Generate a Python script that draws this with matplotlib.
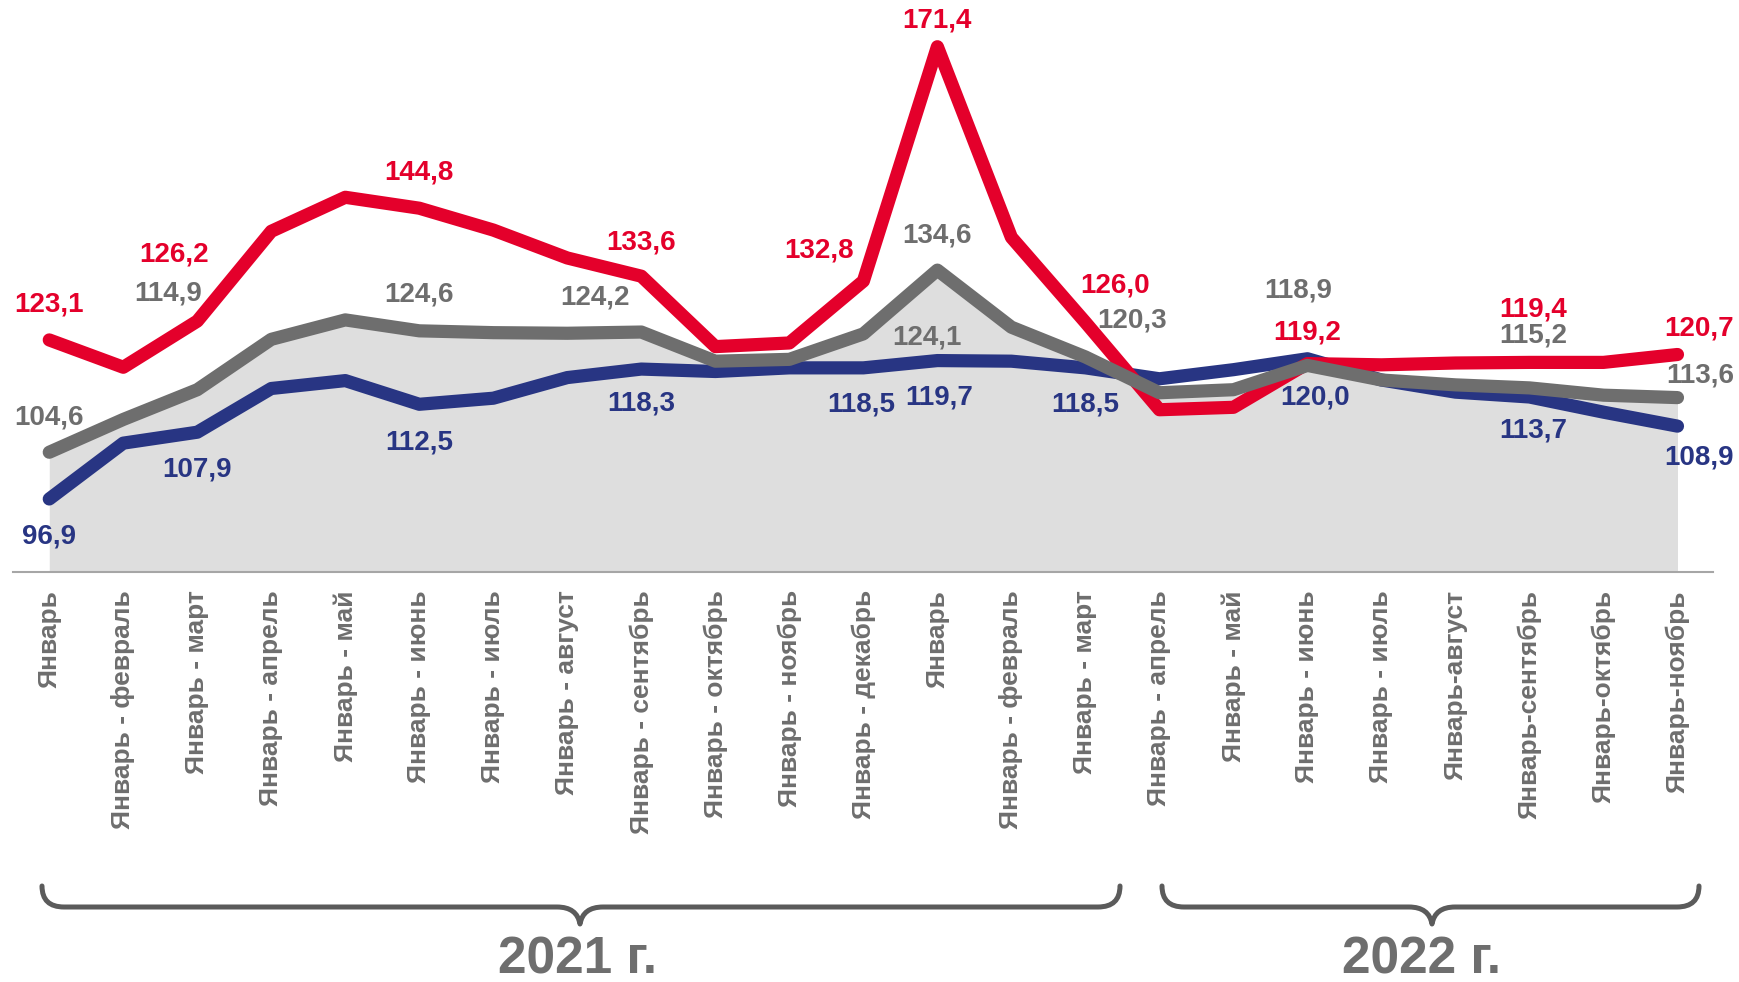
import matplotlib
matplotlib.use("Agg")
import matplotlib.pyplot as plt
from matplotlib.path import Path
from matplotlib.patches import PathPatch

plt.rcParams['font.family'] = ['Liberation Sans', 'DejaVu Sans']

categories = [
    "Январь", "Январь - февраль", "Январь - март", "Январь - апрель", "Январь - май",
    "Январь - июнь", "Январь - июль", "Январь - август", "Январь - сентябрь",
    "Январь - октябрь", "Январь - ноябрь", "Январь - декабрь",
    "Январь", "Январь - февраль", "Январь - март", "Январь - апрель", "Январь - май",
    "Январь - июнь", "Январь - июль", "Январь-август", "Январь-сентябрь",
    "Январь-октябрь", "Январь-ноябрь",
]

red_values = [123.1, 118.6, 126.2, 141.0, 146.6, 144.8, 141.2, 136.6, 133.6, 122.0, 122.6, 132.8,
              171.4, 140.0, 126.0, 111.6, 112.0, 119.2, 119.0, 119.3, 119.4, 119.4, 120.7]
gray_values = [104.6, 110.0, 114.9, 123.2, 126.4, 124.6, 124.3, 124.2, 124.4, 119.6, 119.9, 124.1,
               134.6, 125.2, 120.3, 114.4, 114.9, 118.9, 116.5, 115.7, 115.2, 114.0, 113.6]
blue_values = [96.9, 106.1, 107.9, 115.1, 116.4, 112.5, 113.5, 116.9, 118.3, 117.9, 118.5, 118.5,
               119.7, 119.6, 118.5, 116.7, 118.2, 120.0, 116.5, 114.5, 113.7, 111.2, 108.9]

# labelled points: index, offset in pixels (dx, dy up)
red_labels = [(0, 0, 35), (2, -23, 67), (5, 0, 36), (8, 0, 34), (11, -44, 31), (12, 0, 26),
              (14, 30, 37), (17, 0, 31), (20, 4, 53), (22, 22, 26)]
gray_labels = [(0, 0, 35), (2, -29, 96), (5, 0, 36), (7, 28, 36), (11, 64, -4), (12, 0, 35),
               (14, 47, 36), (17, -9, 75), (20, 4, 52), (22, 23, 22)]
blue_labels = [(0, 0, -38), (2, 0, -37), (5, 0, -38), (8, 0, -34), (11, -2, -37), (12, 2, -37),
               (14, 0, -37), (17, 8, -39), (20, 4, -34), (22, 22, -31)]

years = ["2021 г.", "2022 г."]

RED = "#E4002B"
GRAY = "#6E6E6E"
BLUE = "#283583"
FILL = "#DEDEDE"
TXT = "#6E6E6E"

W, H = 1739, 982
fig = plt.figure(figsize=(W / 100, H / 100), dpi=100)
ax = fig.add_axes([13 / W, 410 / H, 1700 / W, 572 / H])
ymin, ymax = 84.87, 179.1
ax.set_ylim(ymin, ymax)
ax.set_xlim(-0.49, 22.48)

x = list(range(len(categories)))
ax.fill_between(x, gray_values, ymin, facecolor=FILL, edgecolor=FILL, lw=0, zorder=1)
lw = 9.5
ax.plot(x, blue_values, color=BLUE, lw=lw, solid_capstyle='round', solid_joinstyle='round', zorder=3)
ax.plot(x, red_values, color=RED, lw=lw, solid_capstyle='round', solid_joinstyle='round', zorder=4)
ax.plot(x, gray_values, color=GRAY, lw=lw, solid_capstyle='round', solid_joinstyle='round', zorder=5)


def fmt(v):
    return f"{v:.1f}".replace('.', ',')


for vals, labs, col in [(red_values, red_labels, RED), (gray_values, gray_labels, TXT),
                        (blue_values, blue_labels, BLUE)]:
    for i, dx, dy in labs:
        ax.annotate(fmt(vals[i]), (i, vals[i]), xytext=(dx, dy), textcoords='offset pixels',
                    ha='center', va='center', fontsize=20, fontweight='bold', color=col, zorder=6)

for s in ['top', 'right', 'left']:
    ax.spines[s].set_visible(False)
ax.spines['bottom'].set_color('#A6A6A6')
ax.spines['bottom'].set_linewidth(1.5)
ax.spines['bottom'].set_zorder(2)
ax.set_yticks([])
ax.set_xticks(x)
ax.set_xticklabels(categories, rotation=90, fontsize=19, fontweight='bold', color=TXT,
                   ha='center', va='top')
ax.tick_params(axis='x', length=0, pad=13)
ax.patch.set_visible(False)

# overlay for braces and year captions
ov = fig.add_axes([0, 0, 1, 1])
ov.set_xlim(0, W)
ov.set_ylim(H, 0)
ov.axis('off')
ov.patch.set_visible(False)


def brace(x0, x1, xm, ytop=886, yh=907, ycusp=924, r=22, c=23):
    verts = [(x0, ytop), (x0, yh), (x0 + r, yh),
             (xm - c, yh),
             (xm - 3, yh), (xm, ycusp),
             (xm + 3, yh), (xm + c, yh),
             (x1 - r, yh),
             (x1, yh), (x1, ytop)]
    codes = [Path.MOVETO, Path.CURVE3, Path.CURVE3,
             Path.LINETO,
             Path.CURVE3, Path.CURVE3,
             Path.CURVE3, Path.CURVE3,
             Path.LINETO,
             Path.CURVE3, Path.CURVE3]
    p = PathPatch(Path(verts, codes), facecolor='none', edgecolor='#5B5B5B', lw=3.6,
                  joinstyle='round', capstyle='round')
    ov.add_patch(p)


brace(42, 1120, 580)
brace(1162, 1699, 1432)
ov.text(578, 973, years[0], ha='center', va='baseline', fontsize=37, fontweight='bold', color=TXT)
ov.text(1421, 973, years[1], ha='center', va='baseline', fontsize=37, fontweight='bold', color=TXT)

fig.savefig("out.png", dpi=100)
